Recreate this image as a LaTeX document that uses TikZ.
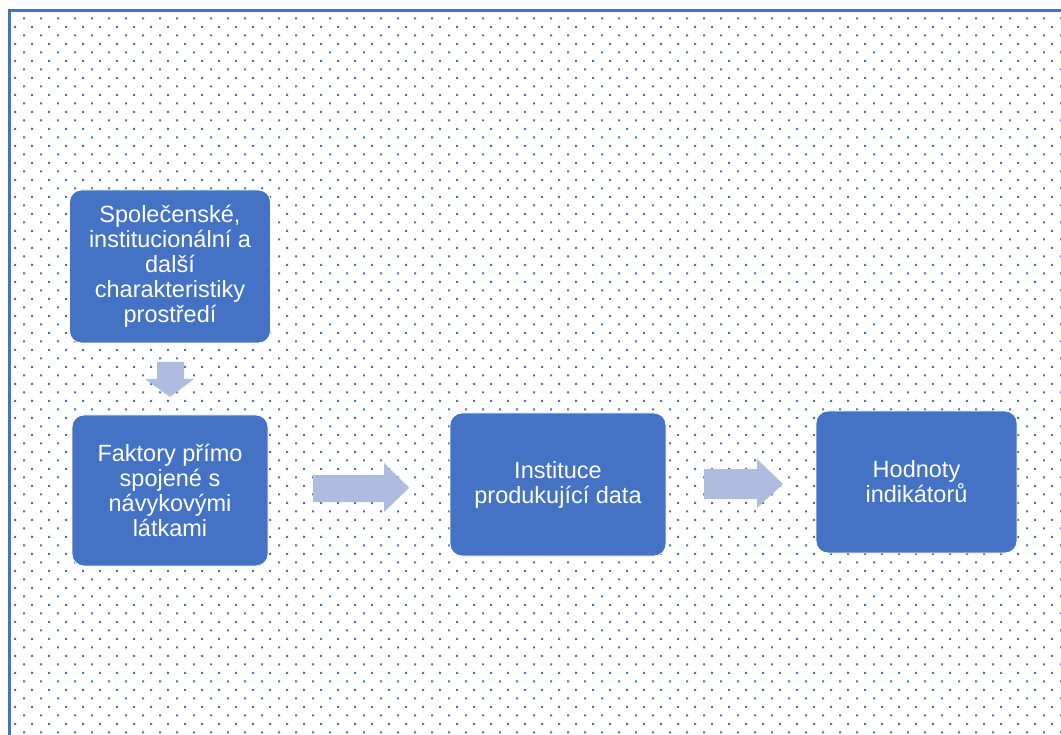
\documentclass[tikz,border=0pt]{standalone}
\usepackage{fontspec}
\setmainfont{Liberation Sans}
\definecolor{boxblue}{HTML}{4472C4}
\definecolor{arrowblue}{HTML}{B0BCDF}
\tikzset{
  stage/.style={rectangle,rounded corners=12pt,fill=boxblue,draw=white,line width=.8pt,
    text=white,align=center,inner sep=2pt,font=\fontsize{23.5}{25}\selectfont},
  blockarrow/.style={fill=arrowblue}
}
\begin{document}
\begin{tikzpicture}[x=1pt,y=-1pt]
  \path[use as bounding box] (0,0) rectangle (1061,735);
  % dotted background
  \foreach \j in {0,...,84}{
    \pgfmathsetmacro{\yy}{18.3+8.5*\j}
    \pgfmathsetmacro{\xo}{isodd(\j) ? 15 : 24}
    \fill[boxblue] \foreach \i in {0,...,61}{ (\xo+17*\i-1,\yy-1) rectangle ++(2,2) };
  }
  \draw[boxblue,line width=2.5pt] (9.5,740) |- (1070,10.5);
  % stages
  \node[stage,minimum width=201,minimum height=153] (env) at (170,266.5)
    {Společenské,\\institucionální a\\další\\charakteristiky\\prostředí};
  \node[stage,minimum width=196,minimum height=151] (fact) at (170,490.5)
    {Faktory přímo\\spojené s\\návykovými\\látkami};
  \node[stage,minimum width=216,minimum height=143] (inst) at (558,484.5)
    {Instituce\\produkující data};
  \node[stage,minimum width=201,minimum height=142] (vals) at (916.5,482)
    {Hodnoty\\indikátorů};
  % block arrows
  \fill[blockarrow] (157,362) -- (184,362) -- (184,379) -- (194,379) -- (170,397)
    -- (145,379) -- (157,379) -- cycle;
  \fill[blockarrow] (313,475) -- (384,475) -- (384,463) -- (409,488) -- (384,512)
    -- (384,502) -- (313,502) -- cycle;
  \fill[blockarrow] (704,469) -- (757,469) -- (757,459) -- (783,484) -- (757,508)
    -- (757,499) -- (704,499) -- cycle;
\end{tikzpicture}
\end{document}
